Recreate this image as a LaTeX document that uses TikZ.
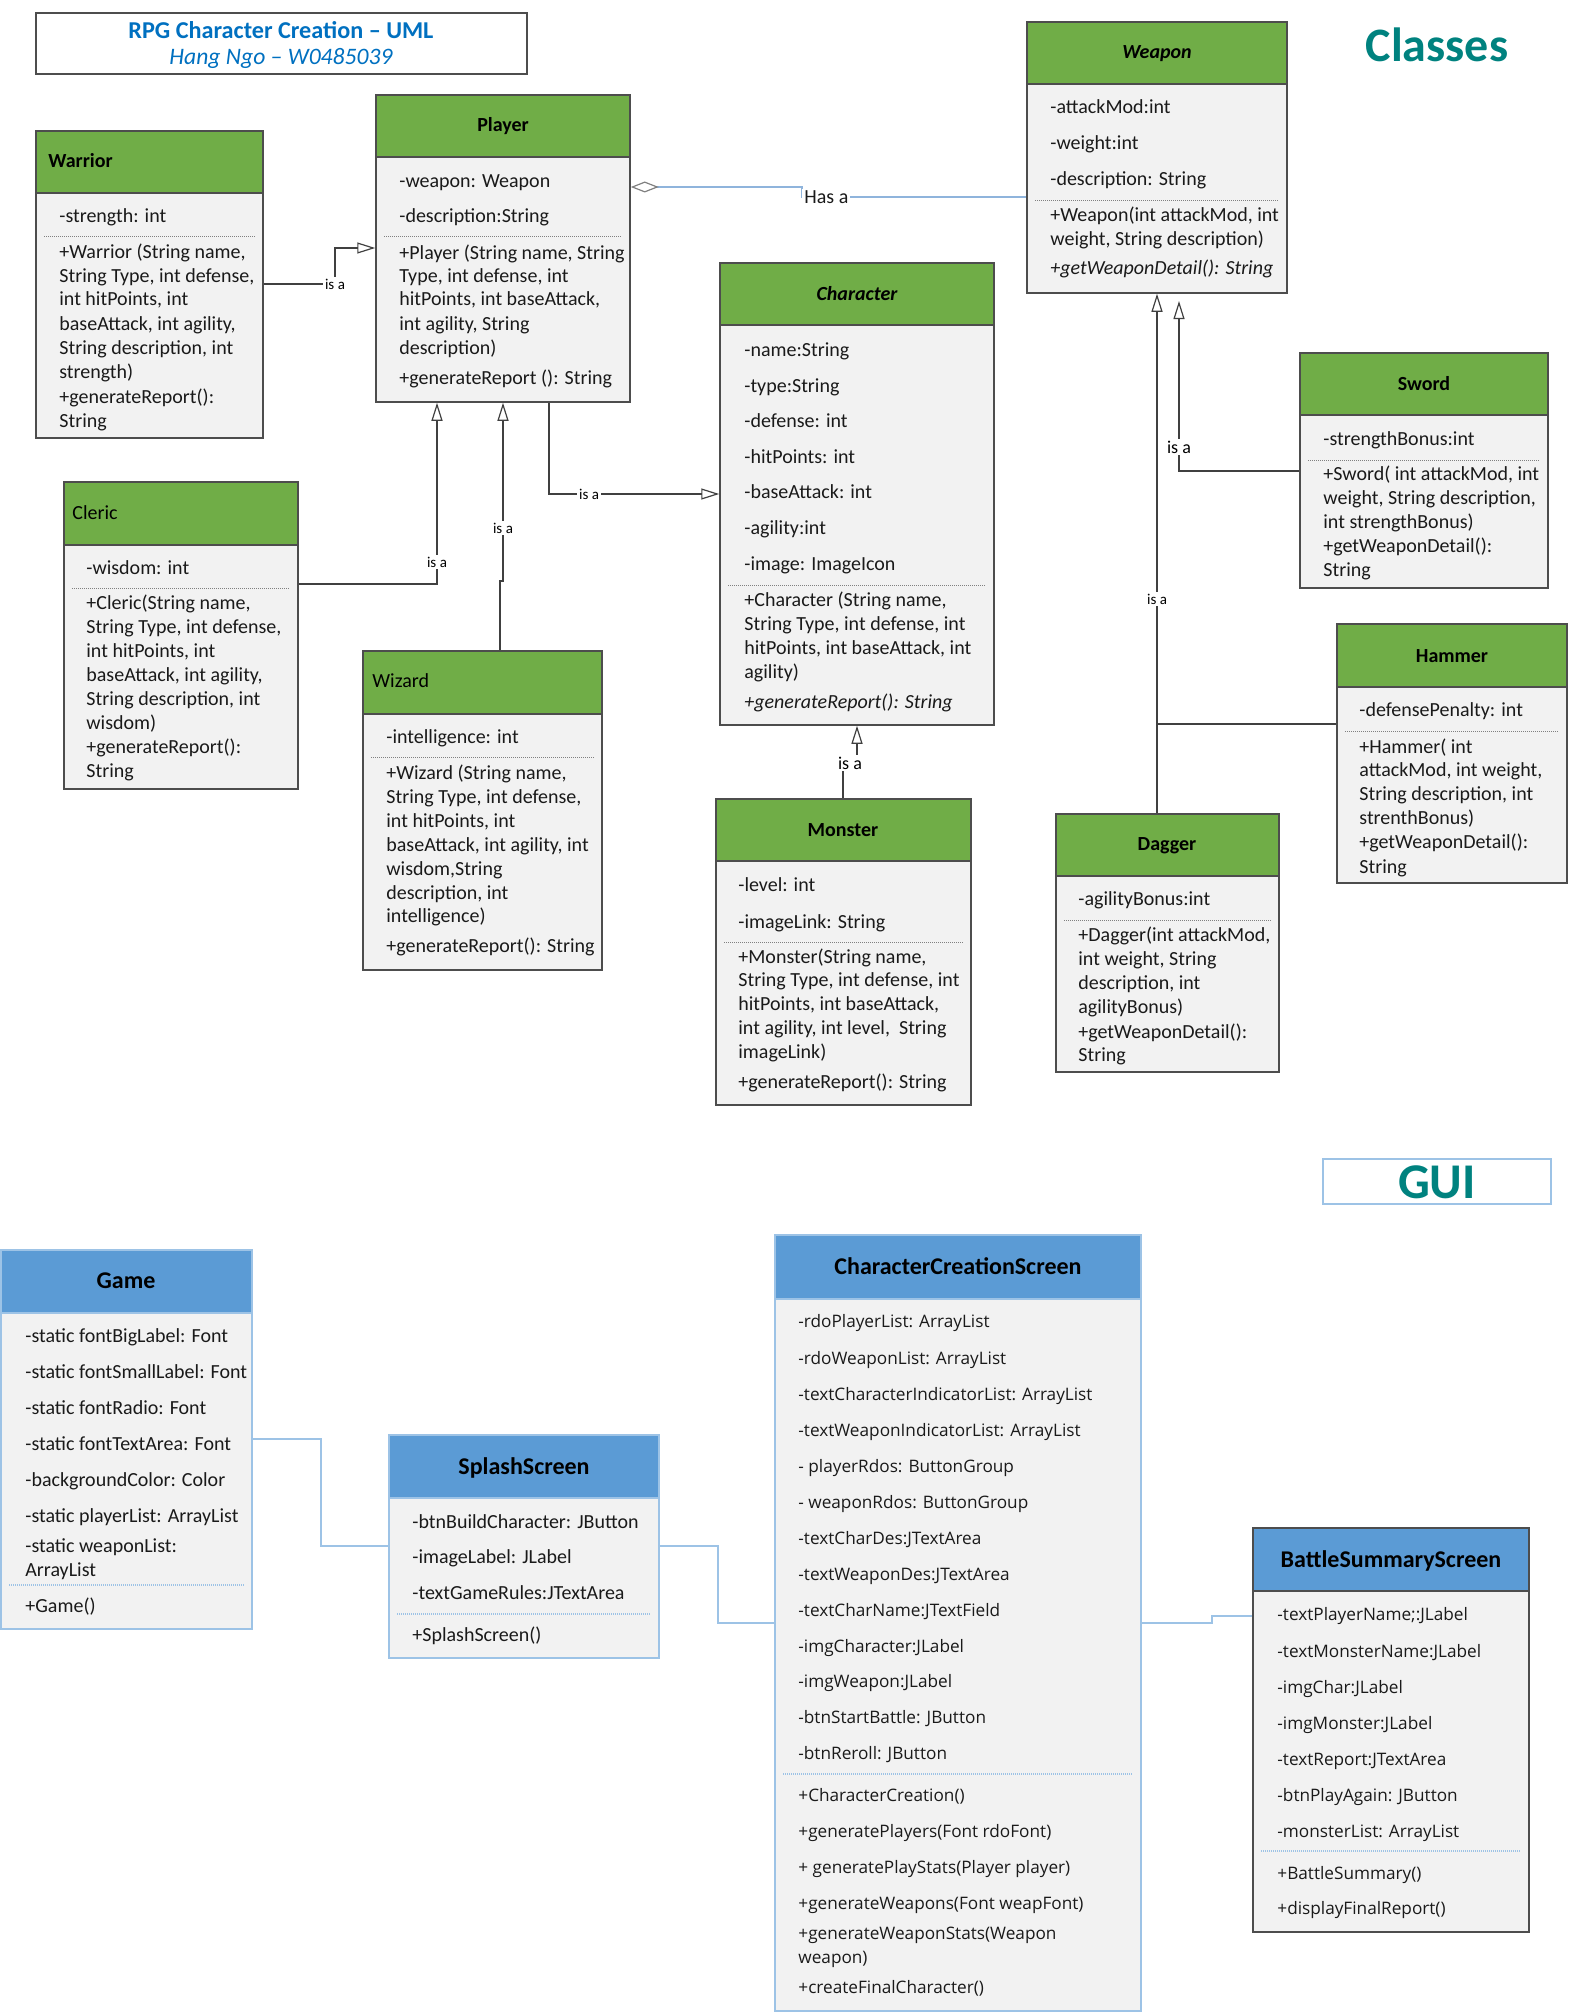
\documentclass[tikz,border=0pt]{standalone}
\usepackage{fontspec}
\setmainfont{Carlito}
\newfontfamily\guifont{Open Sans}
\usetikzlibrary{arrows.meta,fit}

\definecolor{hdrgreen}{HTML}{70AD47}
\definecolor{hdrblue}{HTML}{5B9BD5}
\definecolor{bodygray}{HTML}{F2F2F2}
\definecolor{edgegray}{HTML}{4D4D4D}
\definecolor{edgeblue}{HTML}{9DC3E6}
\definecolor{linkblue}{HTML}{8FB4DC}
\definecolor{titleblue}{HTML}{0070C0}
\definecolor{tealtext}{HTML}{00827F}
\definecolor{inktext}{HTML}{1A1A1A}

\tikzset{
  classbody/.style={draw=edgegray, fill=bodygray, line width=0.75pt, inner sep=0pt},
  classhead/.style={draw=edgegray, fill=hdrgreen, line width=0.75pt, inner sep=0pt},
  guibody/.style={draw=edgeblue, fill=bodygray, line width=0.75pt, inner sep=0pt},
  guihead/.style={draw=edgeblue, fill=hdrblue, line width=0.75pt, inner sep=0pt},
  darkbody/.style={draw=edgegray, fill=bodygray, line width=0.75pt, inner sep=0pt},
  darkhead/.style={draw=edgegray, fill=hdrblue, line width=0.75pt, inner sep=0pt},
  member/.style={anchor=base west, inner sep=0pt, text=inktext, font=\fontsize{10}{12}\selectfont},
  imember/.style={member, font=\itshape\fontsize{10}{12}\selectfont},
  guimember/.style={member, font=\guifont\fontsize{8.6}{10}\selectfont},
  ctitle/.style={anchor=base, inner sep=0pt, text=black, font=\bfseries\fontsize{10}{12}\selectfont},
  ictitle/.style={ctitle, font=\bfseries\itshape\fontsize{10}{12}\selectfont},
  ltitle/.style={anchor=base west, inner sep=0pt, text=black, font=\fontsize{10}{12}\selectfont},
  gtitle/.style={anchor=base, inner sep=0pt, text=black, font=\bfseries\fontsize{12}{14}\selectfont},
  sepline/.style={draw=gray, line width=0.5pt, dash pattern=on 0.5pt off 0.5pt},
  sepblue/.style={draw=edgeblue, line width=0.6pt, dash pattern=on 0.5pt off 0.5pt},
  gen/.style={draw=black!75, line width=0.6pt,
    -{Triangle[open, length=9pt, width=5.5pt, line width=0.6pt]}},
  plainlink/.style={draw=black!75, line width=0.6pt},
  hasa/.style={draw=linkblue, line width=0.6pt,
    {Diamond[open, length=14pt, width=5.5pt, line width=0.6pt, color=black!50]}-},
  guilink/.style={draw=edgeblue, line width=0.75pt},
  isa/.style={fill=white, inner sep=0.8pt, text=black, font=\fontsize{7.5}{9}\selectfont},
}

% a class box: name, style prefix, x1, y1, x2, y2, bottom of the header band
\newcommand\umlclass[7]{%
  \node[#2body, fit={(#3,#4) (#5,#6)}] (#1) {};
  \node[#2head, fit={(#3,#4) (#5,#7)}] (#1-head) {};}

\begin{document}
\begin{tikzpicture}[x=0.5pt, y=-0.5pt]
\useasboundingbox (0,0) rectangle (1570,2012);

% ---------- heading ----------
\node[draw=edgegray, line width=0.75pt, inner sep=0pt, fit={(36,13) (527,74)}] (titlebox) {};
\node[inner sep=0pt, text=titleblue, font=\bfseries\fontsize{12.1}{14}\selectfont] (title1) at (281,30) {RPG Character Creation – UML};
\node[inner sep=0pt, text=titleblue, font=\itshape\fontsize{11.8}{14}\selectfont] (title2) at (281,58) {Hang Ngo – W0485039};
\node[inner sep=0pt, text=tealtext, font=\bfseries\fontsize{24}{28}\selectfont] (classes) at (1437,45) {Classes};

% ---------- Warrior ----------
\umlclass{warrior}{class}{36}{131}{263}{438}{193}
\node[ctitle, anchor=base west] (warrior-t) at (48,168) {Warrior};
\node[member] (warrior-a1) at (59,223) {-strength: int};
\draw[sepline] (44,237) -- (255,237);
\foreach \yy/\mtext [count=\i] in {258/{+Warrior (String name,}, 283/{String Type, int defense,}, 306/{int hitPoints, int}, 330/{baseAttack, int agility,}, 354/{String description, int}, 378/{strength)}, 403/{+generateReport():}, 427/{String}}
  \node[member] (warrior-m\i) at (59,\yy) {\mtext};

% ---------- Player ----------
\umlclass{player}{class}{376}{95}{630}{402}{157}
\node[ctitle] (player-t) at (503,132) {Player};
\node[member] (player-a1) at (399,188) {-weapon: Weapon};
\node[member] (player-a2) at (399,223) {-description:String};
\draw[sepline] (384,237) -- (622,237);
\foreach \yy/\mtext [count=\i] in {259/{+Player (String name, String}, 283/{Type, int defense, int}, 306/{hitPoints, int baseAttack,}, 330/{int agility, String}, 354/{description)}, 384/{+generateReport (): String}}
  \node[member] (player-m\i) at (399,\yy) {\mtext};

% ---------- Weapon ----------
\umlclass{weapon}{class}{1027}{22}{1287}{293}{84}
\node[ictitle] (weapon-t) at (1157,59) {Weapon};
\foreach \yy/\mtext [count=\i] in {114/{-attackMod:int}, 150/{-weight:int}, 186/{-description: String}}
  \node[member] (weapon-a\i) at (1050,\yy) {\mtext};
\draw[sepline] (1035,201) -- (1279,201);
\node[member] (weapon-m1) at (1050,222) {+Weapon(int attackMod, int};
\node[member] (weapon-m2) at (1050,246) {weight, String description)};
\node[imember] (weapon-m3) at (1050,275) {+getWeaponDetail(): String};

% ---------- Character ----------
\umlclass{character}{class}{720}{263}{994}{725}{325}
\node[ictitle] (character-t) at (857,300) {Character};
\foreach \yy/\mtext [count=\i] in {356/{-name:String}, 392/{-type:String}, 427/{-defense: int}, 463/{-hitPoints: int}, 498/{-baseAttack: int}, 534/{-agility:int}, 570/{-image: ImageIcon}}
  \node[member] (character-a\i) at (744,\yy) {\mtext};
\draw[sepline] (728,585) -- (986,585);
\foreach \yy/\mtext [count=\i] in {606/{+Character (String name,}, 630/{String Type, int defense, int}, 654/{hitPoints, int baseAttack, int}, 678/{agility)}}
  \node[member] (character-m\i) at (744,\yy) {\mtext};
\node[imember] (character-m5) at (744,708) {+generateReport(): String};

% ---------- Sword ----------
\umlclass{sword}{class}{1300}{353}{1548}{588}{415}
\node[ctitle] (sword-t) at (1424,390) {Sword};
\node[member] (sword-a1) at (1323,445) {-strengthBonus:int};
\draw[sepline] (1308,460) -- (1540,460);
\foreach \yy/\mtext [count=\i] in {480/{+Sword( int attackMod, int}, 504/{weight, String description,}, 528/{int strengthBonus)}, 552/{+getWeaponDetail():}, 576/{String}}
  \node[member] (sword-m\i) at (1323,\yy) {\mtext};

% ---------- Cleric ----------
\umlclass{cleric}{class}{64}{482}{298}{789}{545}
\node[ltitle] (cleric-t) at (72,519) {Cleric};
\node[member] (cleric-a1) at (86,574) {-wisdom: int};
\draw[sepline] (72,588) -- (290,588);
\foreach \yy/\mtext [count=\i] in {609/{+Cleric(String name,}, 633/{String Type, int defense,}, 657/{int hitPoints, int}, 681/{baseAttack, int agility,}, 705/{String description, int}, 729/{wisdom)}, 753/{+generateReport():}, 777/{String}}
  \node[member] (cleric-m\i) at (86,\yy) {\mtext};

% ---------- Wizard ----------
\umlclass{wizard}{class}{363}{651}{602}{970}{714}
\node[ltitle] (wizard-t) at (372,687) {Wizard};
\node[member] (wizard-a1) at (386,743) {-intelligence: int};
\draw[sepline] (371,757) -- (594,757);
\foreach \yy/\mtext [count=\i] in {779/{+Wizard (String name,}, 803/{String Type, int defense,}, 827/{int hitPoints, int}, 851/{baseAttack, int agility, int}, 875/{wisdom,String}, 899/{description, int}, 922/{intelligence)}, 952/{+generateReport(): String}}
  \node[member] (wizard-m\i) at (386,\yy) {\mtext};

% ---------- Hammer ----------
\umlclass{hammer}{class}{1337}{624}{1567}{883}{687}
\node[ctitle] (hammer-t) at (1452,662) {Hammer};
\node[member] (hammer-a1) at (1359,716) {-defensePenalty: int};
\draw[sepline] (1345,731) -- (1559,731);
\foreach \yy/\mtext [count=\i] in {753/{+Hammer( int}, 776/{attackMod, int weight,}, 800/{String description, int}, 824/{strenthBonus)}, 848/{+getWeaponDetail():}, 873/{String}}
  \node[member] (hammer-m\i) at (1359,\yy) {\mtext};

% ---------- Dagger ----------
\umlclass{dagger}{class}{1056}{814}{1279}{1072}{876}
\node[ctitle] (dagger-t) at (1167,850) {Dagger};
\node[member] (dagger-a1) at (1078,905) {-agilityBonus:int};
\draw[sepline] (1064,920) -- (1271,920);
\foreach \yy/\mtext [count=\i] in {941/{+Dagger(int attackMod,}, 965/{int weight, String}, 989/{description, int}, 1013/{agilityBonus)}, 1038/{+getWeaponDetail():}, 1061/{String}}
  \node[member] (dagger-m\i) at (1078,\yy) {\mtext};

% ---------- Monster ----------
\umlclass{monster}{class}{716}{799}{971}{1105}{861}
\node[ctitle] (monster-t) at (843,836) {Monster};
\node[member] (monster-a1) at (738,891) {-level: int};
\node[member] (monster-a2) at (738,928) {-imageLink: String};
\draw[sepline] (724,942) -- (963,942);
\foreach \yy/\mtext [count=\i] in {963/{+Monster(String name,}, 986/{String Type, int defense, int}, 1010/{hitPoints, int baseAttack,}, 1034/{int agility, int level,\ \ String}, 1058/{imageLink)}, 1088/{+generateReport(): String}}
  \node[member] (monster-m\i) at (738,\yy) {\mtext};

% ---------- class relations ----------
\coordinate (haA) at (802,187);
\coordinate (haB) at (802,197);
\draw[hasa] (player.east |- haA) -- (haA) -- (haB) -- (weapon.west |- haB);
\node[anchor=west, fill=white, inner sep=1pt, text=inktext, font=\fontsize{10}{12}\selectfont] (hasa-l) at (haB) {Has a};

\coordinate (wpA) at (335,284);
\coordinate (wpB) at (335,248);
\draw[gen] (warrior.east |- wpA) -- (wpA) -- (wpB) -- (player.west |- wpB);
\node[isa] (wp-l) at (wpA) {is a};

\coordinate (cpA) at (437,584);
\draw[gen] (cleric.east |- cpA) -- (cpA) -- (cpA |- player.south);
\node[isa] (cp-l) at (437,562) {is a};

\coordinate (zpA) at (500,581);
\coordinate (zpB) at (503,581);
\draw[gen] (zpA |- wizard.north) -- (zpA) -- (zpB) -- (zpB |- player.south);
\node[isa] (zp-l) at (503,528) {is a};

\coordinate (pcA) at (549,494);
\draw[gen] (pcA |- player.south) -- (pcA) -- (character.west |- pcA);
\node[isa] (pc-l) at (589,494) {is a};

\coordinate (mcA) at (843,763);
\coordinate (mcB) at (857,763);
\draw[gen] (mcA |- monster.north) -- (mcA) -- (mcB) -- (mcB |- character.south);
\node[isa, font=\fontsize{9}{11}\selectfont] (mc-l) at (850,763) {is a};

\coordinate (swA) at (1179,471);
\coordinate (swB) at (1179,301);
\draw[gen] (sword.west |- swA) -- (swA) -- (swB);
\node[isa, font=\fontsize{9}{11}\selectfont] (sw-l) at (1179,447) {is a};

\coordinate (dwA) at (1157,724);
\draw[gen] (dwA |- dagger.north) -- (dwA) -- (dwA |- weapon.south);
\draw[plainlink] (hammer.west |- dwA) -- (dwA);
\node[isa] (dw-l) at (1157,599) {is a};

% ---------- GUI ----------
\node[draw=edgeblue, line width=0.75pt, inner sep=0pt, fit={(1323,1159) (1551,1204)}] (guibox) {};
\node[inner sep=0pt, text=tealtext, font=\bfseries\fontsize{25}{29}\selectfont] (guitext) at (1437,1182) {GUI};

% Game
\umlclass{game}{gui}{1}{1250}{252}{1629}{1313}
\node[gtitle] (game-t) at (126,1288) {Game};
\foreach \yy/\mtext [count=\i] in {1342/{-static fontBigLabel: Font}, 1378/{-static fontSmallLabel: Font}, 1414/{-static fontRadio: Font}, 1450/{-static fontTextArea: Font}, 1486/{-backgroundColor: Color}, 1522/{-static playerList: ArrayList}, 1552/{-static weaponList:}, 1576/{ArrayList}}
  \node[member] (game-a\i) at (25,\yy) {\mtext};
\draw[sepblue] (9,1585) -- (244,1585);
\node[member] (game-m1) at (25,1612) {+Game()};

% SplashScreen
\umlclass{splash}{gui}{389}{1435}{659}{1658}{1498}
\node[gtitle] (splash-t) at (524,1474) {SplashScreen};
\foreach \yy/\mtext [count=\i] in {1528/{-btnBuildCharacter: JButton}, 1563/{-imageLabel: JLabel}, 1599/{-textGameRules:JTextArea}}
  \node[member] (splash-a\i) at (412,\yy) {\mtext};
\draw[sepblue] (397,1614) -- (651,1614);
\node[member] (splash-m1) at (412,1641) {+SplashScreen()};

% CharacterCreationScreen
\umlclass{ccs}{gui}{775}{1235}{1141}{2011}{1299}
\node[gtitle] (ccs-t) at (958,1274) {CharacterCreationScreen};
\foreach \yy/\mtext [count=\i] in {1327/{-rdoPlayerList: ArrayList}, 1364/{-rdoWeaponList: ArrayList}, 1400/{-textCharacterIndicatorList: ArrayList}, 1436/{-textWeaponIndicatorList: ArrayList}, 1472/{- playerRdos: ButtonGroup}, 1508/{- weaponRdos: ButtonGroup}, 1544/{-textCharDes:JTextArea}, 1580/{-textWeaponDes:JTextArea}, 1616/{-textCharName:JTextField}, 1652/{-imgCharacter:JLabel}, 1687/{-imgWeapon:JLabel}, 1723/{-btnStartBattle: JButton}, 1759/{-btnReroll: JButton}}
  \node[guimember] (ccs-a\i) at (798,\yy) {\mtext};
\draw[sepblue] (783,1774) -- (1133,1774);
\foreach \yy/\mtext [count=\i] in {1801/{+CharacterCreation()}, 1837/{+generatePlayers(Font rdoFont)}, 1873/{+ generatePlayStats(Player player)}, 1909/{+generateWeapons(Font weapFont)}, 1939/{+generateWeaponStats(Weapon}, 1963/{weapon)}, 1993/{+createFinalCharacter()}}
  \node[guimember] (ccs-m\i) at (798,\yy) {\mtext};

% BattleSummaryScreen
\umlclass{bss}{dark}{1253}{1528}{1529}{1932}{1591}
\node[gtitle] (bss-t) at (1391,1567) {BattleSummaryScreen};
\foreach \yy/\mtext [count=\i] in {1620/{-textPlayerName;:JLabel}, 1657/{-textMonsterName:JLabel}, 1693/{-imgChar:JLabel}, 1729/{-imgMonster:JLabel}, 1765/{-textReport:JTextArea}, 1801/{-btnPlayAgain: JButton}, 1837/{-monsterList: ArrayList}}
  \node[guimember] (bss-a\i) at (1277,\yy) {\mtext};
\draw[sepblue] (1261,1851) -- (1521,1851);
\node[guimember] (bss-m1) at (1277,1879) {+BattleSummary()};
\node[guimember] (bss-m2) at (1277,1914) {+displayFinalReport()};

% ---------- GUI links ----------
\coordinate (gsA) at (321,1439);
\coordinate (gsB) at (321,1546);
\draw[guilink] (game.east |- gsA) -- (gsA) -- (gsB) -- (splash.west |- gsB);

\coordinate (scA) at (718,1546);
\coordinate (scB) at (718,1623);
\draw[guilink] (splash.east |- scA) -- (scA) -- (scB) -- (ccs.west |- scB);

\coordinate (cbA) at (1212,1623);
\coordinate (cbB) at (1212,1616);
\draw[guilink] (ccs.east |- cbA) -- (cbA) -- (cbB) -- (bss.west |- cbB);

\end{tikzpicture}
\end{document}
